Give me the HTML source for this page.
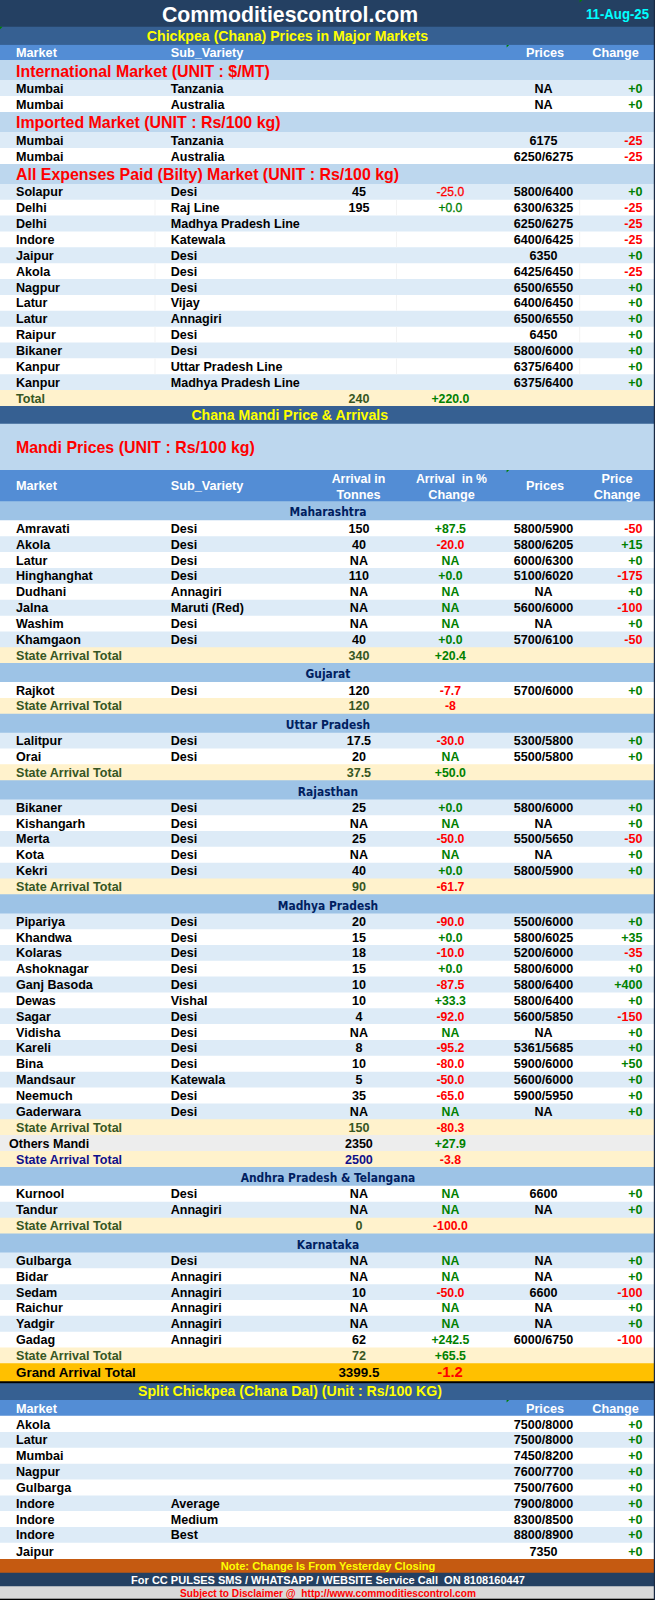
<!DOCTYPE html>
<html><head><meta charset="utf-8"><title>Chickpea (Chana) Prices</title>
<style>
html,body{margin:0;padding:0;background:#fff;}
body{width:655px;height:1600px;position:relative;overflow:hidden;font-family:"Liberation Sans",Arial,sans-serif;font-weight:700;}
.t{position:absolute;white-space:pre;height:24px;line-height:24px;}
.bg{position:absolute;left:0;top:0;display:block;}
</style></head><body>
<svg class="bg" width="655" height="1600" viewBox="0 0 655 1600">
<rect x="0" y="0" width="655" height="27.95" fill="#244062"/>
<rect x="0" y="26.75" width="655" height="19.35" fill="#366092"/>
<rect x="0" y="44.9" width="655" height="16.3" fill="#538dd5"/>
<rect x="0" y="60" width="655" height="21.2" fill="#bdd7ee"/>
<rect x="0" y="80" width="655" height="17.2" fill="#ddebf7"/>
<rect x="0" y="96" width="655" height="17.2" fill="#ffffff"/>
<rect x="0" y="112" width="655" height="21.2" fill="#bdd7ee"/>
<rect x="0" y="132" width="655" height="17.2" fill="#ddebf7"/>
<rect x="0" y="148" width="655" height="17.2" fill="#ffffff"/>
<rect x="0" y="164" width="655" height="21.2" fill="#bdd7ee"/>
<rect x="0" y="184" width="655" height="16.95" fill="#ddebf7"/>
<rect x="0" y="199.75" width="655" height="16.95" fill="#ffffff"/>
<rect x="0" y="215.5" width="655" height="17.2" fill="#ddebf7"/>
<rect x="0" y="231.5" width="655" height="16.95" fill="#ffffff"/>
<rect x="0" y="247.25" width="655" height="17.2" fill="#ddebf7"/>
<rect x="0" y="263.25" width="655" height="16.95" fill="#ffffff"/>
<rect x="0" y="279" width="655" height="17.2" fill="#ddebf7"/>
<rect x="0" y="295" width="655" height="16.95" fill="#ffffff"/>
<rect x="0" y="310.75" width="655" height="17.2" fill="#ddebf7"/>
<rect x="0" y="326.75" width="655" height="16.95" fill="#ffffff"/>
<rect x="0" y="342.5" width="655" height="16.95" fill="#ddebf7"/>
<rect x="0" y="358.25" width="655" height="17.2" fill="#ffffff"/>
<rect x="0" y="374.25" width="655" height="16.95" fill="#ddebf7"/>
<rect x="0" y="390" width="655" height="17.2" fill="#fff2cc"/>
<rect x="0" y="406" width="655" height="18.95" fill="#366092"/>
<rect x="0" y="423.75" width="655" height="47.45" fill="#bdd7ee"/>
<rect x="0" y="470" width="655" height="32.45" fill="#538dd5"/>
<rect x="0" y="501.25" width="655" height="20.2" fill="#9dc3e6"/>
<rect x="0" y="520.25" width="655" height="17.2" fill="#ffffff"/>
<rect x="0" y="536.25" width="655" height="16.95" fill="#ddebf7"/>
<rect x="0" y="552" width="655" height="17.2" fill="#ffffff"/>
<rect x="0" y="568" width="655" height="16.95" fill="#ddebf7"/>
<rect x="0" y="583.75" width="655" height="17.2" fill="#ffffff"/>
<rect x="0" y="599.75" width="655" height="17.2" fill="#ddebf7"/>
<rect x="0" y="615.75" width="655" height="16.95" fill="#ffffff"/>
<rect x="0" y="631.5" width="655" height="16.95" fill="#ddebf7"/>
<rect x="0" y="647.25" width="655" height="16.95" fill="#fff2cc"/>
<rect x="0" y="663" width="655" height="20.2" fill="#9dc3e6"/>
<rect x="0" y="682" width="655" height="17.2" fill="#ffffff"/>
<rect x="0" y="698" width="655" height="16.95" fill="#fff2cc"/>
<rect x="0" y="713.75" width="655" height="20.2" fill="#9dc3e6"/>
<rect x="0" y="732.75" width="655" height="16.95" fill="#ddebf7"/>
<rect x="0" y="748.5" width="655" height="16.95" fill="#ffffff"/>
<rect x="0" y="764.25" width="655" height="17.2" fill="#fff2cc"/>
<rect x="0" y="780.25" width="655" height="20.45" fill="#9dc3e6"/>
<rect x="0" y="799.5" width="655" height="16.95" fill="#ddebf7"/>
<rect x="0" y="815.25" width="655" height="16.95" fill="#ffffff"/>
<rect x="0" y="831" width="655" height="16.95" fill="#ddebf7"/>
<rect x="0" y="846.75" width="655" height="17.2" fill="#ffffff"/>
<rect x="0" y="862.75" width="655" height="16.95" fill="#ddebf7"/>
<rect x="0" y="878.5" width="655" height="16.95" fill="#fff2cc"/>
<rect x="0" y="894.25" width="655" height="20.45" fill="#9dc3e6"/>
<rect x="0" y="913.5" width="655" height="16.95" fill="#ddebf7"/>
<rect x="0" y="929.25" width="655" height="16.95" fill="#ffffff"/>
<rect x="0" y="945" width="655" height="16.95" fill="#ddebf7"/>
<rect x="0" y="960.75" width="655" height="16.95" fill="#ffffff"/>
<rect x="0" y="976.5" width="655" height="17.2" fill="#ddebf7"/>
<rect x="0" y="992.5" width="655" height="16.95" fill="#ffffff"/>
<rect x="0" y="1008.25" width="655" height="16.95" fill="#ddebf7"/>
<rect x="0" y="1024" width="655" height="17.2" fill="#ffffff"/>
<rect x="0" y="1040" width="655" height="16.95" fill="#ddebf7"/>
<rect x="0" y="1055.75" width="655" height="17.2" fill="#ffffff"/>
<rect x="0" y="1071.75" width="655" height="16.95" fill="#ddebf7"/>
<rect x="0" y="1087.5" width="655" height="17.2" fill="#ffffff"/>
<rect x="0" y="1103.5" width="655" height="16.95" fill="#ddebf7"/>
<rect x="0" y="1119.25" width="655" height="16.95" fill="#fff2cc"/>
<rect x="0" y="1135" width="655" height="17.2" fill="#ededed"/>
<rect x="0" y="1151" width="655" height="17.2" fill="#fff2cc"/>
<rect x="0" y="1167" width="655" height="19.95" fill="#9dc3e6"/>
<rect x="0" y="1185.75" width="655" height="17.2" fill="#ffffff"/>
<rect x="0" y="1201.75" width="655" height="17.2" fill="#ddebf7"/>
<rect x="0" y="1217.75" width="655" height="16.95" fill="#fff2cc"/>
<rect x="0" y="1233.5" width="655" height="20.2" fill="#9dc3e6"/>
<rect x="0" y="1252.5" width="655" height="16.95" fill="#ddebf7"/>
<rect x="0" y="1268.25" width="655" height="17.2" fill="#ffffff"/>
<rect x="0" y="1284.25" width="655" height="16.95" fill="#ddebf7"/>
<rect x="0" y="1300" width="655" height="16.95" fill="#ffffff"/>
<rect x="0" y="1315.75" width="655" height="17.2" fill="#ddebf7"/>
<rect x="0" y="1331.75" width="655" height="16.95" fill="#ffffff"/>
<rect x="0" y="1347.5" width="655" height="16.95" fill="#fff2cc"/>
<rect x="0" y="1363.25" width="655" height="19.2" fill="#ffc000"/>
<rect x="0" y="1381.25" width="655" height="3.15" fill="#000"/>
<rect x="0" y="1383.2" width="655" height="18.0" fill="#366092"/>
<rect x="0" y="1400" width="655" height="16.95" fill="#538dd5"/>
<rect x="0" y="1415.75" width="655" height="17.45" fill="#ffffff"/>
<rect x="0" y="1432" width="655" height="16.95" fill="#ddebf7"/>
<rect x="0" y="1447.75" width="655" height="17.2" fill="#ffffff"/>
<rect x="0" y="1463.75" width="655" height="16.95" fill="#ddebf7"/>
<rect x="0" y="1479.5" width="655" height="17.2" fill="#ffffff"/>
<rect x="0" y="1495.5" width="655" height="16.7" fill="#ddebf7"/>
<rect x="0" y="1511" width="655" height="17.2" fill="#ffffff"/>
<rect x="0" y="1527" width="655" height="16.95" fill="#ddebf7"/>
<rect x="0" y="1542.75" width="655" height="17.45" fill="#ffffff"/>
<rect x="0" y="1559" width="655" height="14.95" fill="#c55a11"/>
<rect x="0" y="1572.75" width="655" height="14.7" fill="#244062"/>
<rect x="0" y="1586.25" width="655" height="13.65" fill="#d9d9d9"/>
<rect x="0" y="1598.7" width="655" height="1.3" fill="#000"/>
<rect x="154.5" y="199.75" width="1" height="15.75" fill="#f3f3f3"/>
<rect x="396" y="199.75" width="1" height="15.75" fill="#f3f3f3"/>
<rect x="579.2" y="199.75" width="1" height="15.75" fill="#f3f3f3"/>
<rect x="154.5" y="231.5" width="1" height="15.75" fill="#f3f3f3"/>
<rect x="396" y="231.5" width="1" height="15.75" fill="#f3f3f3"/>
<rect x="579.2" y="231.5" width="1" height="15.75" fill="#f3f3f3"/>
<rect x="154.5" y="263.25" width="1" height="15.75" fill="#f3f3f3"/>
<rect x="396" y="263.25" width="1" height="15.75" fill="#f3f3f3"/>
<rect x="579.2" y="263.25" width="1" height="15.75" fill="#f3f3f3"/>
<rect x="154.5" y="295" width="1" height="15.75" fill="#f3f3f3"/>
<rect x="396" y="295" width="1" height="15.75" fill="#f3f3f3"/>
<rect x="579.2" y="295" width="1" height="15.75" fill="#f3f3f3"/>
<rect x="154.5" y="326.75" width="1" height="15.75" fill="#f3f3f3"/>
<rect x="396" y="326.75" width="1" height="15.75" fill="#f3f3f3"/>
<rect x="579.2" y="326.75" width="1" height="15.75" fill="#f3f3f3"/>
<rect x="154.5" y="358.25" width="1" height="16.0" fill="#f3f3f3"/>
<rect x="396" y="358.25" width="1" height="16.0" fill="#f3f3f3"/>
<rect x="579.2" y="358.25" width="1" height="16.0" fill="#f3f3f3"/>
<polygon points="506.6,44.9 509.20000000000005,44.9 506.6,47.5" fill="#008000"/>
<polygon points="506.6,470 509.20000000000005,470 506.6,472.6" fill="#008000"/>
<polygon points="506.6,1400 509.20000000000005,1400 506.6,1402.6" fill="#008000"/>
<polygon points="579.6,0 582.2,0 579.6,2.6" fill="#008000"/>
<polygon points="0,26.75 2.6,26.75 0,29.35" fill="#008000"/>
<rect x="653.8" y="0" width="1.2" height="1600" fill="#1a2a44"/>
</svg>
<div class="t" style="top:2.6px;color:#fff;font-size:21.25px;transform:scaleY(1.05);transform-origin:50% 19.0px;left:-10px;width:600px;text-align:center;">Commoditiescontrol.com</div>
<div class="t" style="top:3.3px;color:#00ffff;font-size:13.2px;transform:scaleY(1.1);transform-origin:50% 16.5px;left:349.0px;width:300px;text-align:right;">11-Aug-25</div>
<div class="t" style="top:24.0px;color:#ffff00;font-size:14.15px;left:-12.5px;width:600px;text-align:center;">Chickpea (Chana) Prices in Major Markets</div>
<div class="t" style="top:41.0px;color:#fff;font-size:12.7px;left:16px;">Market</div>
<div class="t" style="top:41.0px;color:#fff;font-size:12.7px;left:170.7px;">Sub_Variety</div>
<div class="t" style="top:41.0px;color:#fff;font-size:12.7px;left:245px;width:600px;text-align:center;">Prices</div>
<div class="t" style="top:41.0px;color:#fff;font-size:12.7px;left:315.5px;width:600px;text-align:center;">Change</div>
<div class="t" style="top:59.5px;color:#ff0000;font-size:15.93px;left:16px;">International Market (UNIT : $/MT)</div>
<div class="t" style="top:77.0px;color:#000;font-size:12.57px;left:16px;">Mumbai</div>
<div class="t" style="top:77.0px;color:#000;font-size:12.57px;left:170.7px;">Tanzania</div>
<div class="t" style="top:77.0px;color:#000;font-size:12.57px;left:243.5px;width:600px;text-align:center;">NA</div>
<div class="t" style="top:77.0px;color:#008000;font-size:12.57px;left:342.5px;width:300px;text-align:right;">+0</div>
<div class="t" style="top:93.0px;color:#000;font-size:12.57px;left:16px;">Mumbai</div>
<div class="t" style="top:93.0px;color:#000;font-size:12.57px;left:170.7px;">Australia</div>
<div class="t" style="top:93.0px;color:#000;font-size:12.57px;left:243.5px;width:600px;text-align:center;">NA</div>
<div class="t" style="top:93.0px;color:#008000;font-size:12.57px;left:342.5px;width:300px;text-align:right;">+0</div>
<div class="t" style="top:110.5px;color:#ff0000;font-size:15.93px;left:16px;">Imported Market (UNIT : Rs/100 kg)</div>
<div class="t" style="top:129.0px;color:#000;font-size:12.57px;left:16px;">Mumbai</div>
<div class="t" style="top:129.0px;color:#000;font-size:12.57px;left:170.7px;">Tanzania</div>
<div class="t" style="top:129.0px;color:#000;font-size:12.57px;left:243.5px;width:600px;text-align:center;">6175</div>
<div class="t" style="top:129.0px;color:#ff0000;font-size:12.57px;left:342.5px;width:300px;text-align:right;">-25</div>
<div class="t" style="top:145.0px;color:#000;font-size:12.57px;left:16px;">Mumbai</div>
<div class="t" style="top:145.0px;color:#000;font-size:12.57px;left:170.7px;">Australia</div>
<div class="t" style="top:145.0px;color:#000;font-size:12.57px;left:243.5px;width:600px;text-align:center;">6250/6275</div>
<div class="t" style="top:145.0px;color:#ff0000;font-size:12.57px;left:342.5px;width:300px;text-align:right;">-25</div>
<div class="t" style="top:162.5px;color:#ff0000;font-size:15.93px;left:16px;">All Expenses Paid (Bilty) Market (UNIT : Rs/100 kg)</div>
<div class="t" style="top:180.0px;color:#000;font-size:12.57px;left:16px;">Solapur</div>
<div class="t" style="top:180.0px;color:#000;font-size:12.57px;left:170.7px;">Desi</div>
<div class="t" style="top:180.0px;color:#000;font-size:12.57px;left:58.9px;width:600px;text-align:center;">45</div>
<div class="t" style="top:180.0px;color:#ff0000;font-size:12.1px;font-weight:400;-webkit-text-stroke:0.3px;left:150.4px;width:600px;text-align:center;">-25.0</div>
<div class="t" style="top:180.0px;color:#000;font-size:12.57px;left:243.5px;width:600px;text-align:center;">5800/6400</div>
<div class="t" style="top:180.0px;color:#008000;font-size:12.57px;left:342.5px;width:300px;text-align:right;">+0</div>
<div class="t" style="top:196.0px;color:#000;font-size:12.57px;left:16px;">Delhi</div>
<div class="t" style="top:196.0px;color:#000;font-size:12.57px;left:170.7px;">Raj Line</div>
<div class="t" style="top:196.0px;color:#000;font-size:12.57px;left:58.9px;width:600px;text-align:center;">195</div>
<div class="t" style="top:196.0px;color:#008000;font-size:12.1px;font-weight:400;-webkit-text-stroke:0.3px;left:150.4px;width:600px;text-align:center;">+0.0</div>
<div class="t" style="top:196.0px;color:#000;font-size:12.57px;left:243.5px;width:600px;text-align:center;">6300/6325</div>
<div class="t" style="top:196.0px;color:#ff0000;font-size:12.57px;left:342.5px;width:300px;text-align:right;">-25</div>
<div class="t" style="top:212.0px;color:#000;font-size:12.57px;left:16px;">Delhi</div>
<div class="t" style="top:212.0px;color:#000;font-size:12.57px;left:170.7px;">Madhya Pradesh Line</div>
<div class="t" style="top:212.0px;color:#000;font-size:12.57px;left:243.5px;width:600px;text-align:center;">6250/6275</div>
<div class="t" style="top:212.0px;color:#ff0000;font-size:12.57px;left:342.5px;width:300px;text-align:right;">-25</div>
<div class="t" style="top:228.0px;color:#000;font-size:12.57px;left:16px;">Indore</div>
<div class="t" style="top:228.0px;color:#000;font-size:12.57px;left:170.7px;">Katewala</div>
<div class="t" style="top:228.0px;color:#000;font-size:12.57px;left:243.5px;width:600px;text-align:center;">6400/6425</div>
<div class="t" style="top:228.0px;color:#ff0000;font-size:12.57px;left:342.5px;width:300px;text-align:right;">-25</div>
<div class="t" style="top:244.0px;color:#000;font-size:12.57px;left:16px;">Jaipur</div>
<div class="t" style="top:244.0px;color:#000;font-size:12.57px;left:170.7px;">Desi</div>
<div class="t" style="top:244.0px;color:#000;font-size:12.57px;left:243.5px;width:600px;text-align:center;">6350</div>
<div class="t" style="top:244.0px;color:#008000;font-size:12.57px;left:342.5px;width:300px;text-align:right;">+0</div>
<div class="t" style="top:260.0px;color:#000;font-size:12.57px;left:16px;">Akola</div>
<div class="t" style="top:260.0px;color:#000;font-size:12.57px;left:170.7px;">Desi</div>
<div class="t" style="top:260.0px;color:#000;font-size:12.57px;left:243.5px;width:600px;text-align:center;">6425/6450</div>
<div class="t" style="top:260.0px;color:#ff0000;font-size:12.57px;left:342.5px;width:300px;text-align:right;">-25</div>
<div class="t" style="top:276.0px;color:#000;font-size:12.57px;left:16px;">Nagpur</div>
<div class="t" style="top:276.0px;color:#000;font-size:12.57px;left:170.7px;">Desi</div>
<div class="t" style="top:276.0px;color:#000;font-size:12.57px;left:243.5px;width:600px;text-align:center;">6500/6550</div>
<div class="t" style="top:276.0px;color:#008000;font-size:12.57px;left:342.5px;width:300px;text-align:right;">+0</div>
<div class="t" style="top:291.0px;color:#000;font-size:12.57px;left:16px;">Latur</div>
<div class="t" style="top:291.0px;color:#000;font-size:12.57px;left:170.7px;">Vijay</div>
<div class="t" style="top:291.0px;color:#000;font-size:12.57px;left:243.5px;width:600px;text-align:center;">6400/6450</div>
<div class="t" style="top:291.0px;color:#008000;font-size:12.57px;left:342.5px;width:300px;text-align:right;">+0</div>
<div class="t" style="top:307.0px;color:#000;font-size:12.57px;left:16px;">Latur</div>
<div class="t" style="top:307.0px;color:#000;font-size:12.57px;left:170.7px;">Annagiri</div>
<div class="t" style="top:307.0px;color:#000;font-size:12.57px;left:243.5px;width:600px;text-align:center;">6500/6550</div>
<div class="t" style="top:307.0px;color:#008000;font-size:12.57px;left:342.5px;width:300px;text-align:right;">+0</div>
<div class="t" style="top:323.0px;color:#000;font-size:12.57px;left:16px;">Raipur</div>
<div class="t" style="top:323.0px;color:#000;font-size:12.57px;left:170.7px;">Desi</div>
<div class="t" style="top:323.0px;color:#000;font-size:12.57px;left:243.5px;width:600px;text-align:center;">6450</div>
<div class="t" style="top:323.0px;color:#008000;font-size:12.57px;left:342.5px;width:300px;text-align:right;">+0</div>
<div class="t" style="top:339.0px;color:#000;font-size:12.57px;left:16px;">Bikaner</div>
<div class="t" style="top:339.0px;color:#000;font-size:12.57px;left:170.7px;">Desi</div>
<div class="t" style="top:339.0px;color:#000;font-size:12.57px;left:243.5px;width:600px;text-align:center;">5800/6000</div>
<div class="t" style="top:339.0px;color:#008000;font-size:12.57px;left:342.5px;width:300px;text-align:right;">+0</div>
<div class="t" style="top:355.0px;color:#000;font-size:12.57px;left:16px;">Kanpur</div>
<div class="t" style="top:355.0px;color:#000;font-size:12.57px;left:170.7px;">Uttar Pradesh Line</div>
<div class="t" style="top:355.0px;color:#000;font-size:12.57px;left:243.5px;width:600px;text-align:center;">6375/6400</div>
<div class="t" style="top:355.0px;color:#008000;font-size:12.57px;left:342.5px;width:300px;text-align:right;">+0</div>
<div class="t" style="top:371.0px;color:#000;font-size:12.57px;left:16px;">Kanpur</div>
<div class="t" style="top:371.0px;color:#000;font-size:12.57px;left:170.7px;">Madhya Pradesh Line</div>
<div class="t" style="top:371.0px;color:#000;font-size:12.57px;left:243.5px;width:600px;text-align:center;">6375/6400</div>
<div class="t" style="top:371.0px;color:#008000;font-size:12.57px;left:342.5px;width:300px;text-align:right;">+0</div>
<div class="t" style="top:387.0px;color:#375623;font-size:12.57px;left:16px;">Total</div>
<div class="t" style="top:387.0px;color:#375623;font-size:12.57px;left:58.9px;width:600px;text-align:center;">240</div>
<div class="t" style="top:387.0px;color:#008000;font-size:12.3px;left:150.4px;width:600px;text-align:center;">+220.0</div>
<div class="t" style="top:403.0px;color:#ffff00;font-size:14.15px;left:-10.25px;width:600px;text-align:center;">Chana Mandi Price &amp; Arrivals</div>
<div class="t" style="top:435.5px;color:#ff0000;font-size:15.93px;left:16px;">Mandi Prices (UNIT : Rs/100 kg)</div>
<div class="t" style="top:474.0px;color:#fff;font-size:12.7px;left:16px;">Market</div>
<div class="t" style="top:474.0px;color:#fff;font-size:12.7px;left:170.7px;">Sub_Variety</div>
<div class="t" style="top:474.0px;color:#fff;font-size:12.7px;left:245px;width:600px;text-align:center;">Prices</div>
<div class="t" style="top:467.0px;color:#fff;font-size:12.4px;left:58.5px;width:600px;text-align:center;">Arrival in</div>
<div class="t" style="top:483.0px;color:#fff;font-size:12.7px;left:58.5px;width:600px;text-align:center;">Tonnes</div>
<div class="t" style="top:467.0px;color:#fff;font-size:12.3px;left:151.5px;width:600px;text-align:center;">Arrival  in %</div>
<div class="t" style="top:483.0px;color:#fff;font-size:12.7px;left:151.5px;width:600px;text-align:center;">Change</div>
<div class="t" style="top:467.0px;color:#fff;font-size:12.7px;left:317px;width:600px;text-align:center;">Price</div>
<div class="t" style="top:483.0px;color:#fff;font-size:12.7px;left:317px;width:600px;text-align:center;">Change</div>
<div class="t" style="top:500.0px;color:#002060;font-size:11.9px;font-family:'DejaVu Sans Condensed','DejaVu Sans',sans-serif;font-stretch:condensed;left:28px;width:600px;text-align:center;">Maharashtra</div>
<div class="t" style="top:517.0px;color:#000;font-size:12.57px;left:16px;">Amravati</div>
<div class="t" style="top:517.0px;color:#000;font-size:12.57px;left:170.7px;">Desi</div>
<div class="t" style="top:517.0px;color:#000;font-size:12.57px;left:58.9px;width:600px;text-align:center;">150</div>
<div class="t" style="top:517.0px;color:#008000;font-size:12.3px;left:150.4px;width:600px;text-align:center;">+87.5</div>
<div class="t" style="top:517.0px;color:#000;font-size:12.57px;left:243.5px;width:600px;text-align:center;">5800/5900</div>
<div class="t" style="top:517.0px;color:#ff0000;font-size:12.57px;left:342.5px;width:300px;text-align:right;">-50</div>
<div class="t" style="top:533.0px;color:#000;font-size:12.57px;left:16px;">Akola</div>
<div class="t" style="top:533.0px;color:#000;font-size:12.57px;left:170.7px;">Desi</div>
<div class="t" style="top:533.0px;color:#000;font-size:12.57px;left:58.9px;width:600px;text-align:center;">40</div>
<div class="t" style="top:533.0px;color:#ff0000;font-size:12.3px;left:150.4px;width:600px;text-align:center;">-20.0</div>
<div class="t" style="top:533.0px;color:#000;font-size:12.57px;left:243.5px;width:600px;text-align:center;">5800/6205</div>
<div class="t" style="top:533.0px;color:#008000;font-size:12.57px;left:342.5px;width:300px;text-align:right;">+15</div>
<div class="t" style="top:549.0px;color:#000;font-size:12.57px;left:16px;">Latur</div>
<div class="t" style="top:549.0px;color:#000;font-size:12.57px;left:170.7px;">Desi</div>
<div class="t" style="top:549.0px;color:#000;font-size:12.57px;left:58.9px;width:600px;text-align:center;">NA</div>
<div class="t" style="top:549.0px;color:#008000;font-size:12.3px;left:150.4px;width:600px;text-align:center;">NA</div>
<div class="t" style="top:549.0px;color:#000;font-size:12.57px;left:243.5px;width:600px;text-align:center;">6000/6300</div>
<div class="t" style="top:549.0px;color:#008000;font-size:12.57px;left:342.5px;width:300px;text-align:right;">+0</div>
<div class="t" style="top:564.0px;color:#000;font-size:12.57px;left:16px;">Hinghanghat</div>
<div class="t" style="top:564.0px;color:#000;font-size:12.57px;left:170.7px;">Desi</div>
<div class="t" style="top:564.0px;color:#000;font-size:12.57px;left:58.9px;width:600px;text-align:center;">110</div>
<div class="t" style="top:564.0px;color:#008000;font-size:12.3px;left:150.4px;width:600px;text-align:center;">+0.0</div>
<div class="t" style="top:564.0px;color:#000;font-size:12.57px;left:243.5px;width:600px;text-align:center;">5100/6020</div>
<div class="t" style="top:564.0px;color:#ff0000;font-size:12.57px;left:342.5px;width:300px;text-align:right;">-175</div>
<div class="t" style="top:580.0px;color:#000;font-size:12.57px;left:16px;">Dudhani</div>
<div class="t" style="top:580.0px;color:#000;font-size:12.57px;left:170.7px;">Annagiri</div>
<div class="t" style="top:580.0px;color:#000;font-size:12.57px;left:58.9px;width:600px;text-align:center;">NA</div>
<div class="t" style="top:580.0px;color:#008000;font-size:12.3px;left:150.4px;width:600px;text-align:center;">NA</div>
<div class="t" style="top:580.0px;color:#000;font-size:12.57px;left:243.5px;width:600px;text-align:center;">NA</div>
<div class="t" style="top:580.0px;color:#008000;font-size:12.57px;left:342.5px;width:300px;text-align:right;">+0</div>
<div class="t" style="top:596.0px;color:#000;font-size:12.57px;left:16px;">Jalna</div>
<div class="t" style="top:596.0px;color:#000;font-size:12.57px;left:170.7px;">Maruti (Red)</div>
<div class="t" style="top:596.0px;color:#000;font-size:12.57px;left:58.9px;width:600px;text-align:center;">NA</div>
<div class="t" style="top:596.0px;color:#008000;font-size:12.3px;left:150.4px;width:600px;text-align:center;">NA</div>
<div class="t" style="top:596.0px;color:#000;font-size:12.57px;left:243.5px;width:600px;text-align:center;">5600/6000</div>
<div class="t" style="top:596.0px;color:#ff0000;font-size:12.57px;left:342.5px;width:300px;text-align:right;">-100</div>
<div class="t" style="top:612.0px;color:#000;font-size:12.57px;left:16px;">Washim</div>
<div class="t" style="top:612.0px;color:#000;font-size:12.57px;left:170.7px;">Desi</div>
<div class="t" style="top:612.0px;color:#000;font-size:12.57px;left:58.9px;width:600px;text-align:center;">NA</div>
<div class="t" style="top:612.0px;color:#008000;font-size:12.3px;left:150.4px;width:600px;text-align:center;">NA</div>
<div class="t" style="top:612.0px;color:#000;font-size:12.57px;left:243.5px;width:600px;text-align:center;">NA</div>
<div class="t" style="top:612.0px;color:#008000;font-size:12.57px;left:342.5px;width:300px;text-align:right;">+0</div>
<div class="t" style="top:628.0px;color:#000;font-size:12.57px;left:16px;">Khamgaon</div>
<div class="t" style="top:628.0px;color:#000;font-size:12.57px;left:170.7px;">Desi</div>
<div class="t" style="top:628.0px;color:#000;font-size:12.57px;left:58.9px;width:600px;text-align:center;">40</div>
<div class="t" style="top:628.0px;color:#008000;font-size:12.3px;left:150.4px;width:600px;text-align:center;">+0.0</div>
<div class="t" style="top:628.0px;color:#000;font-size:12.57px;left:243.5px;width:600px;text-align:center;">5700/6100</div>
<div class="t" style="top:628.0px;color:#ff0000;font-size:12.57px;left:342.5px;width:300px;text-align:right;">-50</div>
<div class="t" style="top:644.0px;color:#375623;font-size:12.57px;left:16px;">State Arrival Total</div>
<div class="t" style="top:644.0px;color:#375623;font-size:12.57px;left:58.9px;width:600px;text-align:center;">340</div>
<div class="t" style="top:644.0px;color:#008000;font-size:12.3px;left:150.4px;width:600px;text-align:center;">+20.4</div>
<div class="t" style="top:662.0px;color:#002060;font-size:11.9px;font-family:'DejaVu Sans Condensed','DejaVu Sans',sans-serif;font-stretch:condensed;left:28px;width:600px;text-align:center;">Gujarat</div>
<div class="t" style="top:679.0px;color:#000;font-size:12.57px;left:16px;">Rajkot</div>
<div class="t" style="top:679.0px;color:#000;font-size:12.57px;left:170.7px;">Desi</div>
<div class="t" style="top:679.0px;color:#000;font-size:12.57px;left:58.9px;width:600px;text-align:center;">120</div>
<div class="t" style="top:679.0px;color:#ff0000;font-size:12.3px;left:150.4px;width:600px;text-align:center;">-7.7</div>
<div class="t" style="top:679.0px;color:#000;font-size:12.57px;left:243.5px;width:600px;text-align:center;">5700/6000</div>
<div class="t" style="top:679.0px;color:#008000;font-size:12.57px;left:342.5px;width:300px;text-align:right;">+0</div>
<div class="t" style="top:694.0px;color:#375623;font-size:12.57px;left:16px;">State Arrival Total</div>
<div class="t" style="top:694.0px;color:#375623;font-size:12.57px;left:58.9px;width:600px;text-align:center;">120</div>
<div class="t" style="top:694.0px;color:#ff0000;font-size:12.3px;left:150.4px;width:600px;text-align:center;">-8</div>
<div class="t" style="top:713.0px;color:#002060;font-size:11.9px;font-family:'DejaVu Sans Condensed','DejaVu Sans',sans-serif;font-stretch:condensed;left:28px;width:600px;text-align:center;">Uttar Pradesh</div>
<div class="t" style="top:729.0px;color:#000;font-size:12.57px;left:16px;">Lalitpur</div>
<div class="t" style="top:729.0px;color:#000;font-size:12.57px;left:170.7px;">Desi</div>
<div class="t" style="top:729.0px;color:#000;font-size:12.57px;left:58.9px;width:600px;text-align:center;">17.5</div>
<div class="t" style="top:729.0px;color:#ff0000;font-size:12.3px;left:150.4px;width:600px;text-align:center;">-30.0</div>
<div class="t" style="top:729.0px;color:#000;font-size:12.57px;left:243.5px;width:600px;text-align:center;">5300/5800</div>
<div class="t" style="top:729.0px;color:#008000;font-size:12.57px;left:342.5px;width:300px;text-align:right;">+0</div>
<div class="t" style="top:745.0px;color:#000;font-size:12.57px;left:16px;">Orai</div>
<div class="t" style="top:745.0px;color:#000;font-size:12.57px;left:170.7px;">Desi</div>
<div class="t" style="top:745.0px;color:#000;font-size:12.57px;left:58.9px;width:600px;text-align:center;">20</div>
<div class="t" style="top:745.0px;color:#008000;font-size:12.3px;left:150.4px;width:600px;text-align:center;">NA</div>
<div class="t" style="top:745.0px;color:#000;font-size:12.57px;left:243.5px;width:600px;text-align:center;">5500/5800</div>
<div class="t" style="top:745.0px;color:#008000;font-size:12.57px;left:342.5px;width:300px;text-align:right;">+0</div>
<div class="t" style="top:761.0px;color:#375623;font-size:12.57px;left:16px;">State Arrival Total</div>
<div class="t" style="top:761.0px;color:#375623;font-size:12.57px;left:58.9px;width:600px;text-align:center;">37.5</div>
<div class="t" style="top:761.0px;color:#008000;font-size:12.3px;left:150.4px;width:600px;text-align:center;">+50.0</div>
<div class="t" style="top:780.0px;color:#002060;font-size:11.9px;font-family:'DejaVu Sans Condensed','DejaVu Sans',sans-serif;font-stretch:condensed;left:28px;width:600px;text-align:center;">Rajasthan</div>
<div class="t" style="top:796.0px;color:#000;font-size:12.57px;left:16px;">Bikaner</div>
<div class="t" style="top:796.0px;color:#000;font-size:12.57px;left:170.7px;">Desi</div>
<div class="t" style="top:796.0px;color:#000;font-size:12.57px;left:58.9px;width:600px;text-align:center;">25</div>
<div class="t" style="top:796.0px;color:#008000;font-size:12.3px;left:150.4px;width:600px;text-align:center;">+0.0</div>
<div class="t" style="top:796.0px;color:#000;font-size:12.57px;left:243.5px;width:600px;text-align:center;">5800/6000</div>
<div class="t" style="top:796.0px;color:#008000;font-size:12.57px;left:342.5px;width:300px;text-align:right;">+0</div>
<div class="t" style="top:812.0px;color:#000;font-size:12.57px;left:16px;">Kishangarh</div>
<div class="t" style="top:812.0px;color:#000;font-size:12.57px;left:170.7px;">Desi</div>
<div class="t" style="top:812.0px;color:#000;font-size:12.57px;left:58.9px;width:600px;text-align:center;">NA</div>
<div class="t" style="top:812.0px;color:#008000;font-size:12.3px;left:150.4px;width:600px;text-align:center;">NA</div>
<div class="t" style="top:812.0px;color:#000;font-size:12.57px;left:243.5px;width:600px;text-align:center;">NA</div>
<div class="t" style="top:812.0px;color:#008000;font-size:12.57px;left:342.5px;width:300px;text-align:right;">+0</div>
<div class="t" style="top:827.0px;color:#000;font-size:12.57px;left:16px;">Merta</div>
<div class="t" style="top:827.0px;color:#000;font-size:12.57px;left:170.7px;">Desi</div>
<div class="t" style="top:827.0px;color:#000;font-size:12.57px;left:58.9px;width:600px;text-align:center;">25</div>
<div class="t" style="top:827.0px;color:#ff0000;font-size:12.3px;left:150.4px;width:600px;text-align:center;">-50.0</div>
<div class="t" style="top:827.0px;color:#000;font-size:12.57px;left:243.5px;width:600px;text-align:center;">5500/5650</div>
<div class="t" style="top:827.0px;color:#ff0000;font-size:12.57px;left:342.5px;width:300px;text-align:right;">-50</div>
<div class="t" style="top:843.0px;color:#000;font-size:12.57px;left:16px;">Kota</div>
<div class="t" style="top:843.0px;color:#000;font-size:12.57px;left:170.7px;">Desi</div>
<div class="t" style="top:843.0px;color:#000;font-size:12.57px;left:58.9px;width:600px;text-align:center;">NA</div>
<div class="t" style="top:843.0px;color:#008000;font-size:12.3px;left:150.4px;width:600px;text-align:center;">NA</div>
<div class="t" style="top:843.0px;color:#000;font-size:12.57px;left:243.5px;width:600px;text-align:center;">NA</div>
<div class="t" style="top:843.0px;color:#008000;font-size:12.57px;left:342.5px;width:300px;text-align:right;">+0</div>
<div class="t" style="top:859.0px;color:#000;font-size:12.57px;left:16px;">Kekri</div>
<div class="t" style="top:859.0px;color:#000;font-size:12.57px;left:170.7px;">Desi</div>
<div class="t" style="top:859.0px;color:#000;font-size:12.57px;left:58.9px;width:600px;text-align:center;">40</div>
<div class="t" style="top:859.0px;color:#008000;font-size:12.3px;left:150.4px;width:600px;text-align:center;">+0.0</div>
<div class="t" style="top:859.0px;color:#000;font-size:12.57px;left:243.5px;width:600px;text-align:center;">5800/5900</div>
<div class="t" style="top:859.0px;color:#008000;font-size:12.57px;left:342.5px;width:300px;text-align:right;">+0</div>
<div class="t" style="top:875.0px;color:#375623;font-size:12.57px;left:16px;">State Arrival Total</div>
<div class="t" style="top:875.0px;color:#375623;font-size:12.57px;left:58.9px;width:600px;text-align:center;">90</div>
<div class="t" style="top:875.0px;color:#ff0000;font-size:12.3px;left:150.4px;width:600px;text-align:center;">-61.7</div>
<div class="t" style="top:894.0px;color:#002060;font-size:11.9px;font-family:'DejaVu Sans Condensed','DejaVu Sans',sans-serif;font-stretch:condensed;left:28px;width:600px;text-align:center;">Madhya Pradesh</div>
<div class="t" style="top:910.0px;color:#000;font-size:12.57px;left:16px;">Pipariya</div>
<div class="t" style="top:910.0px;color:#000;font-size:12.57px;left:170.7px;">Desi</div>
<div class="t" style="top:910.0px;color:#000;font-size:12.57px;left:58.9px;width:600px;text-align:center;">20</div>
<div class="t" style="top:910.0px;color:#ff0000;font-size:12.3px;left:150.4px;width:600px;text-align:center;">-90.0</div>
<div class="t" style="top:910.0px;color:#000;font-size:12.57px;left:243.5px;width:600px;text-align:center;">5500/6000</div>
<div class="t" style="top:910.0px;color:#008000;font-size:12.57px;left:342.5px;width:300px;text-align:right;">+0</div>
<div class="t" style="top:926.0px;color:#000;font-size:12.57px;left:16px;">Khandwa</div>
<div class="t" style="top:926.0px;color:#000;font-size:12.57px;left:170.7px;">Desi</div>
<div class="t" style="top:926.0px;color:#000;font-size:12.57px;left:58.9px;width:600px;text-align:center;">15</div>
<div class="t" style="top:926.0px;color:#008000;font-size:12.3px;left:150.4px;width:600px;text-align:center;">+0.0</div>
<div class="t" style="top:926.0px;color:#000;font-size:12.57px;left:243.5px;width:600px;text-align:center;">5800/6025</div>
<div class="t" style="top:926.0px;color:#008000;font-size:12.57px;left:342.5px;width:300px;text-align:right;">+35</div>
<div class="t" style="top:941.0px;color:#000;font-size:12.57px;left:16px;">Kolaras</div>
<div class="t" style="top:941.0px;color:#000;font-size:12.57px;left:170.7px;">Desi</div>
<div class="t" style="top:941.0px;color:#000;font-size:12.57px;left:58.9px;width:600px;text-align:center;">18</div>
<div class="t" style="top:941.0px;color:#ff0000;font-size:12.3px;left:150.4px;width:600px;text-align:center;">-10.0</div>
<div class="t" style="top:941.0px;color:#000;font-size:12.57px;left:243.5px;width:600px;text-align:center;">5200/6000</div>
<div class="t" style="top:941.0px;color:#ff0000;font-size:12.57px;left:342.5px;width:300px;text-align:right;">-35</div>
<div class="t" style="top:957.0px;color:#000;font-size:12.57px;left:16px;">Ashoknagar</div>
<div class="t" style="top:957.0px;color:#000;font-size:12.57px;left:170.7px;">Desi</div>
<div class="t" style="top:957.0px;color:#000;font-size:12.57px;left:58.9px;width:600px;text-align:center;">15</div>
<div class="t" style="top:957.0px;color:#008000;font-size:12.3px;left:150.4px;width:600px;text-align:center;">+0.0</div>
<div class="t" style="top:957.0px;color:#000;font-size:12.57px;left:243.5px;width:600px;text-align:center;">5800/6000</div>
<div class="t" style="top:957.0px;color:#008000;font-size:12.57px;left:342.5px;width:300px;text-align:right;">+0</div>
<div class="t" style="top:973.0px;color:#000;font-size:12.57px;left:16px;">Ganj Basoda</div>
<div class="t" style="top:973.0px;color:#000;font-size:12.57px;left:170.7px;">Desi</div>
<div class="t" style="top:973.0px;color:#000;font-size:12.57px;left:58.9px;width:600px;text-align:center;">10</div>
<div class="t" style="top:973.0px;color:#ff0000;font-size:12.3px;left:150.4px;width:600px;text-align:center;">-87.5</div>
<div class="t" style="top:973.0px;color:#000;font-size:12.57px;left:243.5px;width:600px;text-align:center;">5800/6400</div>
<div class="t" style="top:973.0px;color:#008000;font-size:12.57px;left:342.5px;width:300px;text-align:right;">+400</div>
<div class="t" style="top:989.0px;color:#000;font-size:12.57px;left:16px;">Dewas</div>
<div class="t" style="top:989.0px;color:#000;font-size:12.57px;left:170.7px;">Vishal</div>
<div class="t" style="top:989.0px;color:#000;font-size:12.57px;left:58.9px;width:600px;text-align:center;">10</div>
<div class="t" style="top:989.0px;color:#008000;font-size:12.3px;left:150.4px;width:600px;text-align:center;">+33.3</div>
<div class="t" style="top:989.0px;color:#000;font-size:12.57px;left:243.5px;width:600px;text-align:center;">5800/6400</div>
<div class="t" style="top:989.0px;color:#008000;font-size:12.57px;left:342.5px;width:300px;text-align:right;">+0</div>
<div class="t" style="top:1005.0px;color:#000;font-size:12.57px;left:16px;">Sagar</div>
<div class="t" style="top:1005.0px;color:#000;font-size:12.57px;left:170.7px;">Desi</div>
<div class="t" style="top:1005.0px;color:#000;font-size:12.57px;left:58.9px;width:600px;text-align:center;">4</div>
<div class="t" style="top:1005.0px;color:#ff0000;font-size:12.3px;left:150.4px;width:600px;text-align:center;">-92.0</div>
<div class="t" style="top:1005.0px;color:#000;font-size:12.57px;left:243.5px;width:600px;text-align:center;">5600/5850</div>
<div class="t" style="top:1005.0px;color:#ff0000;font-size:12.57px;left:342.5px;width:300px;text-align:right;">-150</div>
<div class="t" style="top:1021.0px;color:#000;font-size:12.57px;left:16px;">Vidisha</div>
<div class="t" style="top:1021.0px;color:#000;font-size:12.57px;left:170.7px;">Desi</div>
<div class="t" style="top:1021.0px;color:#000;font-size:12.57px;left:58.9px;width:600px;text-align:center;">NA</div>
<div class="t" style="top:1021.0px;color:#008000;font-size:12.3px;left:150.4px;width:600px;text-align:center;">NA</div>
<div class="t" style="top:1021.0px;color:#000;font-size:12.57px;left:243.5px;width:600px;text-align:center;">NA</div>
<div class="t" style="top:1021.0px;color:#008000;font-size:12.57px;left:342.5px;width:300px;text-align:right;">+0</div>
<div class="t" style="top:1036.0px;color:#000;font-size:12.57px;left:16px;">Kareli</div>
<div class="t" style="top:1036.0px;color:#000;font-size:12.57px;left:170.7px;">Desi</div>
<div class="t" style="top:1036.0px;color:#000;font-size:12.57px;left:58.9px;width:600px;text-align:center;">8</div>
<div class="t" style="top:1036.0px;color:#ff0000;font-size:12.3px;left:150.4px;width:600px;text-align:center;">-95.2</div>
<div class="t" style="top:1036.0px;color:#000;font-size:12.57px;left:243.5px;width:600px;text-align:center;">5361/5685</div>
<div class="t" style="top:1036.0px;color:#008000;font-size:12.57px;left:342.5px;width:300px;text-align:right;">+0</div>
<div class="t" style="top:1052.0px;color:#000;font-size:12.57px;left:16px;">Bina</div>
<div class="t" style="top:1052.0px;color:#000;font-size:12.57px;left:170.7px;">Desi</div>
<div class="t" style="top:1052.0px;color:#000;font-size:12.57px;left:58.9px;width:600px;text-align:center;">10</div>
<div class="t" style="top:1052.0px;color:#ff0000;font-size:12.3px;left:150.4px;width:600px;text-align:center;">-80.0</div>
<div class="t" style="top:1052.0px;color:#000;font-size:12.57px;left:243.5px;width:600px;text-align:center;">5900/6000</div>
<div class="t" style="top:1052.0px;color:#008000;font-size:12.57px;left:342.5px;width:300px;text-align:right;">+50</div>
<div class="t" style="top:1068.0px;color:#000;font-size:12.57px;left:16px;">Mandsaur</div>
<div class="t" style="top:1068.0px;color:#000;font-size:12.57px;left:170.7px;">Katewala</div>
<div class="t" style="top:1068.0px;color:#000;font-size:12.57px;left:58.9px;width:600px;text-align:center;">5</div>
<div class="t" style="top:1068.0px;color:#ff0000;font-size:12.3px;left:150.4px;width:600px;text-align:center;">-50.0</div>
<div class="t" style="top:1068.0px;color:#000;font-size:12.57px;left:243.5px;width:600px;text-align:center;">5600/6000</div>
<div class="t" style="top:1068.0px;color:#008000;font-size:12.57px;left:342.5px;width:300px;text-align:right;">+0</div>
<div class="t" style="top:1084.0px;color:#000;font-size:12.57px;left:16px;">Neemuch</div>
<div class="t" style="top:1084.0px;color:#000;font-size:12.57px;left:170.7px;">Desi</div>
<div class="t" style="top:1084.0px;color:#000;font-size:12.57px;left:58.9px;width:600px;text-align:center;">35</div>
<div class="t" style="top:1084.0px;color:#ff0000;font-size:12.3px;left:150.4px;width:600px;text-align:center;">-65.0</div>
<div class="t" style="top:1084.0px;color:#000;font-size:12.57px;left:243.5px;width:600px;text-align:center;">5900/5950</div>
<div class="t" style="top:1084.0px;color:#008000;font-size:12.57px;left:342.5px;width:300px;text-align:right;">+0</div>
<div class="t" style="top:1100.0px;color:#000;font-size:12.57px;left:16px;">Gaderwara</div>
<div class="t" style="top:1100.0px;color:#000;font-size:12.57px;left:170.7px;">Desi</div>
<div class="t" style="top:1100.0px;color:#000;font-size:12.57px;left:58.9px;width:600px;text-align:center;">NA</div>
<div class="t" style="top:1100.0px;color:#008000;font-size:12.3px;left:150.4px;width:600px;text-align:center;">NA</div>
<div class="t" style="top:1100.0px;color:#000;font-size:12.57px;left:243.5px;width:600px;text-align:center;">NA</div>
<div class="t" style="top:1100.0px;color:#008000;font-size:12.57px;left:342.5px;width:300px;text-align:right;">+0</div>
<div class="t" style="top:1116.0px;color:#375623;font-size:12.57px;left:16px;">State Arrival Total</div>
<div class="t" style="top:1116.0px;color:#375623;font-size:12.57px;left:58.9px;width:600px;text-align:center;">150</div>
<div class="t" style="top:1116.0px;color:#ff0000;font-size:12.3px;left:150.4px;width:600px;text-align:center;">-80.3</div>
<div class="t" style="top:1132.0px;color:#000;font-size:12.57px;left:9px;">Others Mandi</div>
<div class="t" style="top:1132.0px;color:#000;font-size:12.57px;left:58.9px;width:600px;text-align:center;">2350</div>
<div class="t" style="top:1132.0px;color:#008000;font-size:12.3px;left:150.4px;width:600px;text-align:center;">+27.9</div>
<div class="t" style="top:1148.0px;color:#10108a;font-size:12.57px;left:16px;">State Arrival Total</div>
<div class="t" style="top:1148.0px;color:#10108a;font-size:12.57px;left:58.9px;width:600px;text-align:center;">2500</div>
<div class="t" style="top:1148.0px;color:#ff0000;font-size:12.3px;left:150.4px;width:600px;text-align:center;">-3.8</div>
<div class="t" style="top:1166.0px;color:#002060;font-size:11.9px;font-family:'DejaVu Sans Condensed','DejaVu Sans',sans-serif;font-stretch:condensed;left:28px;width:600px;text-align:center;">Andhra Pradesh &amp; Telangana</div>
<div class="t" style="top:1182.0px;color:#000;font-size:12.57px;left:16px;">Kurnool</div>
<div class="t" style="top:1182.0px;color:#000;font-size:12.57px;left:170.7px;">Desi</div>
<div class="t" style="top:1182.0px;color:#000;font-size:12.57px;left:58.9px;width:600px;text-align:center;">NA</div>
<div class="t" style="top:1182.0px;color:#008000;font-size:12.3px;left:150.4px;width:600px;text-align:center;">NA</div>
<div class="t" style="top:1182.0px;color:#000;font-size:12.57px;left:243.5px;width:600px;text-align:center;">6600</div>
<div class="t" style="top:1182.0px;color:#008000;font-size:12.57px;left:342.5px;width:300px;text-align:right;">+0</div>
<div class="t" style="top:1198.0px;color:#000;font-size:12.57px;left:16px;">Tandur</div>
<div class="t" style="top:1198.0px;color:#000;font-size:12.57px;left:170.7px;">Annagiri</div>
<div class="t" style="top:1198.0px;color:#000;font-size:12.57px;left:58.9px;width:600px;text-align:center;">NA</div>
<div class="t" style="top:1198.0px;color:#008000;font-size:12.3px;left:150.4px;width:600px;text-align:center;">NA</div>
<div class="t" style="top:1198.0px;color:#000;font-size:12.57px;left:243.5px;width:600px;text-align:center;">NA</div>
<div class="t" style="top:1198.0px;color:#008000;font-size:12.57px;left:342.5px;width:300px;text-align:right;">+0</div>
<div class="t" style="top:1214.0px;color:#375623;font-size:12.57px;left:16px;">State Arrival Total</div>
<div class="t" style="top:1214.0px;color:#375623;font-size:12.57px;left:58.9px;width:600px;text-align:center;">0</div>
<div class="t" style="top:1214.0px;color:#ff0000;font-size:12.3px;left:150.4px;width:600px;text-align:center;">-100.0</div>
<div class="t" style="top:1233.0px;color:#002060;font-size:11.9px;font-family:'DejaVu Sans Condensed','DejaVu Sans',sans-serif;font-stretch:condensed;left:28px;width:600px;text-align:center;">Karnataka</div>
<div class="t" style="top:1249.0px;color:#000;font-size:12.57px;left:16px;">Gulbarga</div>
<div class="t" style="top:1249.0px;color:#000;font-size:12.57px;left:170.7px;">Desi</div>
<div class="t" style="top:1249.0px;color:#000;font-size:12.57px;left:58.9px;width:600px;text-align:center;">NA</div>
<div class="t" style="top:1249.0px;color:#008000;font-size:12.3px;left:150.4px;width:600px;text-align:center;">NA</div>
<div class="t" style="top:1249.0px;color:#000;font-size:12.57px;left:243.5px;width:600px;text-align:center;">NA</div>
<div class="t" style="top:1249.0px;color:#008000;font-size:12.57px;left:342.5px;width:300px;text-align:right;">+0</div>
<div class="t" style="top:1265.0px;color:#000;font-size:12.57px;left:16px;">Bidar</div>
<div class="t" style="top:1265.0px;color:#000;font-size:12.57px;left:170.7px;">Annagiri</div>
<div class="t" style="top:1265.0px;color:#000;font-size:12.57px;left:58.9px;width:600px;text-align:center;">NA</div>
<div class="t" style="top:1265.0px;color:#008000;font-size:12.3px;left:150.4px;width:600px;text-align:center;">NA</div>
<div class="t" style="top:1265.0px;color:#000;font-size:12.57px;left:243.5px;width:600px;text-align:center;">NA</div>
<div class="t" style="top:1265.0px;color:#008000;font-size:12.57px;left:342.5px;width:300px;text-align:right;">+0</div>
<div class="t" style="top:1281.0px;color:#000;font-size:12.57px;left:16px;">Sedam</div>
<div class="t" style="top:1281.0px;color:#000;font-size:12.57px;left:170.7px;">Annagiri</div>
<div class="t" style="top:1281.0px;color:#000;font-size:12.57px;left:58.9px;width:600px;text-align:center;">10</div>
<div class="t" style="top:1281.0px;color:#ff0000;font-size:12.3px;left:150.4px;width:600px;text-align:center;">-50.0</div>
<div class="t" style="top:1281.0px;color:#000;font-size:12.57px;left:243.5px;width:600px;text-align:center;">6600</div>
<div class="t" style="top:1281.0px;color:#ff0000;font-size:12.57px;left:342.5px;width:300px;text-align:right;">-100</div>
<div class="t" style="top:1296.0px;color:#000;font-size:12.57px;left:16px;">Raichur</div>
<div class="t" style="top:1296.0px;color:#000;font-size:12.57px;left:170.7px;">Annagiri</div>
<div class="t" style="top:1296.0px;color:#000;font-size:12.57px;left:58.9px;width:600px;text-align:center;">NA</div>
<div class="t" style="top:1296.0px;color:#008000;font-size:12.3px;left:150.4px;width:600px;text-align:center;">NA</div>
<div class="t" style="top:1296.0px;color:#000;font-size:12.57px;left:243.5px;width:600px;text-align:center;">NA</div>
<div class="t" style="top:1296.0px;color:#008000;font-size:12.57px;left:342.5px;width:300px;text-align:right;">+0</div>
<div class="t" style="top:1312.0px;color:#000;font-size:12.57px;left:16px;">Yadgir</div>
<div class="t" style="top:1312.0px;color:#000;font-size:12.57px;left:170.7px;">Annagiri</div>
<div class="t" style="top:1312.0px;color:#000;font-size:12.57px;left:58.9px;width:600px;text-align:center;">NA</div>
<div class="t" style="top:1312.0px;color:#008000;font-size:12.3px;left:150.4px;width:600px;text-align:center;">NA</div>
<div class="t" style="top:1312.0px;color:#000;font-size:12.57px;left:243.5px;width:600px;text-align:center;">NA</div>
<div class="t" style="top:1312.0px;color:#008000;font-size:12.57px;left:342.5px;width:300px;text-align:right;">+0</div>
<div class="t" style="top:1328.0px;color:#000;font-size:12.57px;left:16px;">Gadag</div>
<div class="t" style="top:1328.0px;color:#000;font-size:12.57px;left:170.7px;">Annagiri</div>
<div class="t" style="top:1328.0px;color:#000;font-size:12.57px;left:58.9px;width:600px;text-align:center;">62</div>
<div class="t" style="top:1328.0px;color:#008000;font-size:12.3px;left:150.4px;width:600px;text-align:center;">+242.5</div>
<div class="t" style="top:1328.0px;color:#000;font-size:12.57px;left:243.5px;width:600px;text-align:center;">6000/6750</div>
<div class="t" style="top:1328.0px;color:#ff0000;font-size:12.57px;left:342.5px;width:300px;text-align:right;">-100</div>
<div class="t" style="top:1344.0px;color:#375623;font-size:12.57px;left:16px;">State Arrival Total</div>
<div class="t" style="top:1344.0px;color:#375623;font-size:12.57px;left:58.9px;width:600px;text-align:center;">72</div>
<div class="t" style="top:1344.0px;color:#008000;font-size:12.3px;left:150.4px;width:600px;text-align:center;">+65.5</div>
<div class="t" style="top:1360.5px;color:#000;font-size:13.4px;left:16px;">Grand Arrival Total</div>
<div class="t" style="top:1360.5px;color:#000;font-size:13.4px;left:58.9px;width:600px;text-align:center;">3399.5</div>
<div class="t" style="top:1360.0px;color:#ff0000;font-size:14.8px;left:150px;width:600px;text-align:center;">-1.2</div>
<div class="t" style="top:1379.0px;color:#ffff00;font-size:14.15px;left:-10px;width:600px;text-align:center;">Split Chickpea (Chana Dal) (Unit : Rs/100 KG)</div>
<div class="t" style="top:1397.0px;color:#fff;font-size:12.7px;left:16px;">Market</div>
<div class="t" style="top:1397.0px;color:#fff;font-size:12.7px;left:245px;width:600px;text-align:center;">Prices</div>
<div class="t" style="top:1397.0px;color:#fff;font-size:12.7px;left:315.5px;width:600px;text-align:center;">Change</div>
<div class="t" style="top:1413.0px;color:#000;font-size:12.57px;left:16px;">Akola</div>
<div class="t" style="top:1413.0px;color:#000;font-size:12.57px;left:243.5px;width:600px;text-align:center;">7500/8000</div>
<div class="t" style="top:1413.0px;color:#008000;font-size:12.57px;left:342.5px;width:300px;text-align:right;">+0</div>
<div class="t" style="top:1428.0px;color:#000;font-size:12.57px;left:16px;">Latur</div>
<div class="t" style="top:1428.0px;color:#000;font-size:12.57px;left:243.5px;width:600px;text-align:center;">7500/8000</div>
<div class="t" style="top:1428.0px;color:#008000;font-size:12.57px;left:342.5px;width:300px;text-align:right;">+0</div>
<div class="t" style="top:1444.0px;color:#000;font-size:12.57px;left:16px;">Mumbai</div>
<div class="t" style="top:1444.0px;color:#000;font-size:12.57px;left:243.5px;width:600px;text-align:center;">7450/8200</div>
<div class="t" style="top:1444.0px;color:#008000;font-size:12.57px;left:342.5px;width:300px;text-align:right;">+0</div>
<div class="t" style="top:1460.0px;color:#000;font-size:12.57px;left:16px;">Nagpur</div>
<div class="t" style="top:1460.0px;color:#000;font-size:12.57px;left:243.5px;width:600px;text-align:center;">7600/7700</div>
<div class="t" style="top:1460.0px;color:#008000;font-size:12.57px;left:342.5px;width:300px;text-align:right;">+0</div>
<div class="t" style="top:1476.0px;color:#000;font-size:12.57px;left:16px;">Gulbarga</div>
<div class="t" style="top:1476.0px;color:#000;font-size:12.57px;left:243.5px;width:600px;text-align:center;">7500/7600</div>
<div class="t" style="top:1476.0px;color:#008000;font-size:12.57px;left:342.5px;width:300px;text-align:right;">+0</div>
<div class="t" style="top:1492.0px;color:#000;font-size:12.57px;left:16px;">Indore</div>
<div class="t" style="top:1492.0px;color:#000;font-size:12.57px;left:170.7px;">Average</div>
<div class="t" style="top:1492.0px;color:#000;font-size:12.57px;left:243.5px;width:600px;text-align:center;">7900/8000</div>
<div class="t" style="top:1492.0px;color:#008000;font-size:12.57px;left:342.5px;width:300px;text-align:right;">+0</div>
<div class="t" style="top:1508.0px;color:#000;font-size:12.57px;left:16px;">Indore</div>
<div class="t" style="top:1508.0px;color:#000;font-size:12.57px;left:170.7px;">Medium</div>
<div class="t" style="top:1508.0px;color:#000;font-size:12.57px;left:243.5px;width:600px;text-align:center;">8300/8500</div>
<div class="t" style="top:1508.0px;color:#008000;font-size:12.57px;left:342.5px;width:300px;text-align:right;">+0</div>
<div class="t" style="top:1523.0px;color:#000;font-size:12.57px;left:16px;">Indore</div>
<div class="t" style="top:1523.0px;color:#000;font-size:12.57px;left:170.7px;">Best</div>
<div class="t" style="top:1523.0px;color:#000;font-size:12.57px;left:243.5px;width:600px;text-align:center;">8800/8900</div>
<div class="t" style="top:1523.0px;color:#008000;font-size:12.57px;left:342.5px;width:300px;text-align:right;">+0</div>
<div class="t" style="top:1540.0px;color:#000;font-size:12.57px;left:16px;">Jaipur</div>
<div class="t" style="top:1540.0px;color:#000;font-size:12.57px;left:243.5px;width:600px;text-align:center;">7350</div>
<div class="t" style="top:1540.0px;color:#008000;font-size:12.57px;left:342.5px;width:300px;text-align:right;">+0</div>
<div class="t" style="top:1554.0px;color:#ffff00;font-size:11.12px;left:28px;width:600px;text-align:center;">Note: Change Is From Yesterday Closing</div>
<div class="t" style="top:1568.0px;color:#fff;font-size:11.03px;left:28px;width:600px;text-align:center;">For CC PULSES SMS / WHATSAPP / WEBSITE Service Call  ON 8108160447</div>
<div class="t" style="top:1581.5px;color:#ff0000;font-size:10.13px;left:28px;width:600px;text-align:center;">Subject to Disclaimer @  http://www.commoditiescontrol.com</div>
</body></html>
